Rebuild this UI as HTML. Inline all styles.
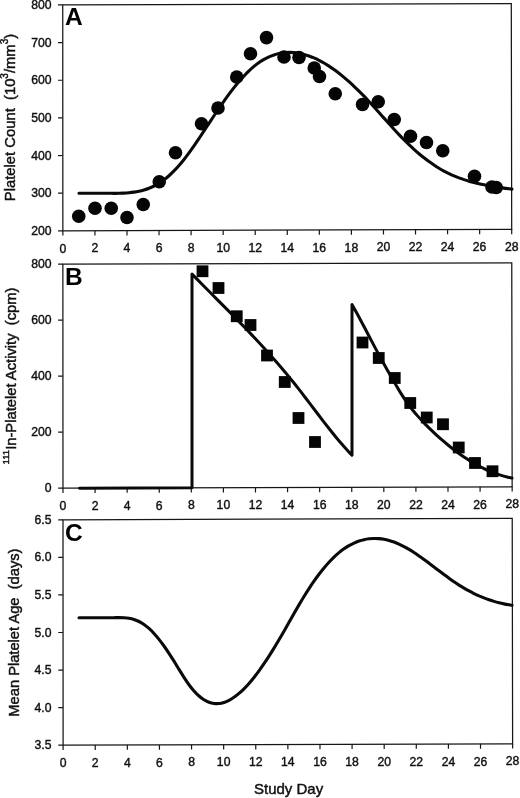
<!DOCTYPE html>
<html><head><meta charset="utf-8"><title>Figure</title>
<style>
html,body{margin:0;padding:0;background:#fff;}
svg{display:block;white-space:pre;font-family:"Liberation Sans",Arial,Helvetica,sans-serif;}
.t{font-size:12.2px;fill:#111;stroke:#111;stroke-width:0.4px;}
.al{font-size:15px;fill:#111;stroke:#111;stroke-width:0.45px;}
.sup{font-size:9px;}
.L{font-size:24.5px;font-weight:bold;fill:#000;}
.c{fill:none;stroke:#0a0a0a;stroke-width:3.1;stroke-linecap:round;stroke-linejoin:round;}
</style></head><body>
<svg width="520" height="798" viewBox="0 0 520 798"><rect width="520" height="798" fill="#fff"/><path d="M62.74,4.96L511.29,3.52L511.70,229.36L62.86,230.80Z" fill="none" stroke="#161616" stroke-width="1.25"/><line x1="62.86" y1="230.80" x2="62.87" y2="235.60" stroke="#161616" stroke-width="1.2"/><text x="62.86" y="252.50" text-anchor="middle" class="t">0</text><line x1="94.92" y1="230.70" x2="94.93" y2="235.50" stroke="#161616" stroke-width="1.2"/><text x="94.92" y="252.40" text-anchor="middle" class="t">2</text><line x1="126.98" y1="230.59" x2="126.99" y2="235.39" stroke="#161616" stroke-width="1.2"/><text x="126.98" y="252.29" text-anchor="middle" class="t">4</text><line x1="159.04" y1="230.49" x2="159.05" y2="235.29" stroke="#161616" stroke-width="1.2"/><text x="159.04" y="252.19" text-anchor="middle" class="t">6</text><line x1="191.10" y1="230.39" x2="191.11" y2="235.19" stroke="#161616" stroke-width="1.2"/><text x="191.10" y="252.09" text-anchor="middle" class="t">8</text><line x1="223.16" y1="230.29" x2="223.17" y2="235.09" stroke="#161616" stroke-width="1.2"/><text x="223.16" y="251.99" text-anchor="middle" class="t">10</text><line x1="255.22" y1="230.18" x2="255.23" y2="234.98" stroke="#161616" stroke-width="1.2"/><text x="255.22" y="251.88" text-anchor="middle" class="t">12</text><line x1="287.28" y1="230.08" x2="287.29" y2="234.88" stroke="#161616" stroke-width="1.2"/><text x="287.28" y="251.78" text-anchor="middle" class="t">14</text><line x1="319.34" y1="229.98" x2="319.35" y2="234.78" stroke="#161616" stroke-width="1.2"/><text x="319.34" y="251.68" text-anchor="middle" class="t">16</text><line x1="351.40" y1="229.88" x2="351.41" y2="234.68" stroke="#161616" stroke-width="1.2"/><text x="351.40" y="251.58" text-anchor="middle" class="t">18</text><line x1="383.46" y1="229.77" x2="383.47" y2="234.57" stroke="#161616" stroke-width="1.2"/><text x="383.46" y="251.47" text-anchor="middle" class="t">20</text><line x1="415.52" y1="229.67" x2="415.53" y2="234.47" stroke="#161616" stroke-width="1.2"/><text x="415.52" y="251.37" text-anchor="middle" class="t">22</text><line x1="447.58" y1="229.57" x2="447.59" y2="234.37" stroke="#161616" stroke-width="1.2"/><text x="447.58" y="251.27" text-anchor="middle" class="t">24</text><line x1="479.64" y1="229.47" x2="479.65" y2="234.27" stroke="#161616" stroke-width="1.2"/><text x="479.64" y="251.17" text-anchor="middle" class="t">26</text><line x1="511.70" y1="229.36" x2="511.71" y2="234.16" stroke="#161616" stroke-width="1.2"/><text x="511.70" y="251.06" text-anchor="middle" class="t">28</text><line x1="57.94" y1="4.97" x2="62.74" y2="4.96" stroke="#161616" stroke-width="1.2"/><text x="51.5" y="9.06" text-anchor="end" class="t">800</text><line x1="57.96" y1="42.62" x2="62.76" y2="42.60" stroke="#161616" stroke-width="1.2"/><text x="51.5" y="46.70" text-anchor="end" class="t">700</text><line x1="57.98" y1="80.25" x2="62.78" y2="80.24" stroke="#161616" stroke-width="1.2"/><text x="51.5" y="84.34" text-anchor="end" class="t">600</text><line x1="58.00" y1="117.89" x2="62.80" y2="117.88" stroke="#161616" stroke-width="1.2"/><text x="51.5" y="121.98" text-anchor="end" class="t">500</text><line x1="58.02" y1="155.53" x2="62.82" y2="155.52" stroke="#161616" stroke-width="1.2"/><text x="51.5" y="159.62" text-anchor="end" class="t">400</text><line x1="58.04" y1="193.18" x2="62.84" y2="193.16" stroke="#161616" stroke-width="1.2"/><text x="51.5" y="197.26" text-anchor="end" class="t">300</text><line x1="58.06" y1="230.81" x2="62.86" y2="230.80" stroke="#161616" stroke-width="1.2"/><text x="51.5" y="234.90" text-anchor="end" class="t">200</text><path d="M62.87,264.20L511.76,262.76L512.16,486.76L62.99,488.20Z" fill="none" stroke="#161616" stroke-width="1.25"/><line x1="62.99" y1="488.20" x2="63.00" y2="493.00" stroke="#161616" stroke-width="1.2"/><text x="62.99" y="509.90" text-anchor="middle" class="t">0</text><line x1="95.07" y1="488.10" x2="95.08" y2="492.90" stroke="#161616" stroke-width="1.2"/><text x="95.07" y="509.80" text-anchor="middle" class="t">2</text><line x1="127.15" y1="487.99" x2="127.16" y2="492.79" stroke="#161616" stroke-width="1.2"/><text x="127.15" y="509.69" text-anchor="middle" class="t">4</text><line x1="159.24" y1="487.89" x2="159.25" y2="492.69" stroke="#161616" stroke-width="1.2"/><text x="159.24" y="509.59" text-anchor="middle" class="t">6</text><line x1="191.32" y1="487.79" x2="191.33" y2="492.59" stroke="#161616" stroke-width="1.2"/><text x="191.32" y="509.49" text-anchor="middle" class="t">8</text><line x1="223.40" y1="487.69" x2="223.41" y2="492.49" stroke="#161616" stroke-width="1.2"/><text x="223.40" y="509.39" text-anchor="middle" class="t">10</text><line x1="255.49" y1="487.58" x2="255.50" y2="492.38" stroke="#161616" stroke-width="1.2"/><text x="255.49" y="509.28" text-anchor="middle" class="t">12</text><line x1="287.57" y1="487.48" x2="287.58" y2="492.28" stroke="#161616" stroke-width="1.2"/><text x="287.57" y="509.18" text-anchor="middle" class="t">14</text><line x1="319.66" y1="487.38" x2="319.67" y2="492.18" stroke="#161616" stroke-width="1.2"/><text x="319.66" y="509.08" text-anchor="middle" class="t">16</text><line x1="351.74" y1="487.28" x2="351.75" y2="492.08" stroke="#161616" stroke-width="1.2"/><text x="351.74" y="508.98" text-anchor="middle" class="t">18</text><line x1="383.82" y1="487.17" x2="383.83" y2="491.97" stroke="#161616" stroke-width="1.2"/><text x="383.82" y="508.87" text-anchor="middle" class="t">20</text><line x1="415.91" y1="487.07" x2="415.92" y2="491.87" stroke="#161616" stroke-width="1.2"/><text x="415.91" y="508.77" text-anchor="middle" class="t">22</text><line x1="447.99" y1="486.97" x2="448.00" y2="491.77" stroke="#161616" stroke-width="1.2"/><text x="447.99" y="508.67" text-anchor="middle" class="t">24</text><line x1="480.08" y1="486.87" x2="480.09" y2="491.67" stroke="#161616" stroke-width="1.2"/><text x="480.08" y="508.57" text-anchor="middle" class="t">26</text><line x1="512.16" y1="486.76" x2="512.17" y2="491.56" stroke="#161616" stroke-width="1.2"/><text x="512.16" y="508.46" text-anchor="middle" class="t">28</text><line x1="58.07" y1="264.21" x2="62.87" y2="264.20" stroke="#161616" stroke-width="1.2"/><text x="51.5" y="268.30" text-anchor="end" class="t">800</text><line x1="58.10" y1="320.21" x2="62.90" y2="320.20" stroke="#161616" stroke-width="1.2"/><text x="51.5" y="324.30" text-anchor="end" class="t">600</text><line x1="58.13" y1="376.21" x2="62.93" y2="376.20" stroke="#161616" stroke-width="1.2"/><text x="51.5" y="380.30" text-anchor="end" class="t">400</text><line x1="58.16" y1="432.21" x2="62.96" y2="432.20" stroke="#161616" stroke-width="1.2"/><text x="51.5" y="436.30" text-anchor="end" class="t">200</text><line x1="58.19" y1="488.21" x2="62.99" y2="488.20" stroke="#161616" stroke-width="1.2"/><text x="51.5" y="492.30" text-anchor="end" class="t">0</text><path d="M63.00,519.80L512.22,518.36L512.62,743.76L63.11,745.20Z" fill="none" stroke="#161616" stroke-width="1.25"/><line x1="63.11" y1="745.20" x2="63.12" y2="750.00" stroke="#161616" stroke-width="1.2"/><text x="63.11" y="766.90" text-anchor="middle" class="t">0</text><line x1="95.22" y1="745.10" x2="95.23" y2="749.90" stroke="#161616" stroke-width="1.2"/><text x="95.22" y="766.80" text-anchor="middle" class="t">2</text><line x1="127.33" y1="744.99" x2="127.34" y2="749.79" stroke="#161616" stroke-width="1.2"/><text x="127.33" y="766.69" text-anchor="middle" class="t">4</text><line x1="159.44" y1="744.89" x2="159.45" y2="749.69" stroke="#161616" stroke-width="1.2"/><text x="159.44" y="766.59" text-anchor="middle" class="t">6</text><line x1="191.54" y1="744.79" x2="191.55" y2="749.59" stroke="#161616" stroke-width="1.2"/><text x="191.54" y="766.49" text-anchor="middle" class="t">8</text><line x1="223.65" y1="744.69" x2="223.66" y2="749.49" stroke="#161616" stroke-width="1.2"/><text x="223.65" y="766.39" text-anchor="middle" class="t">10</text><line x1="255.76" y1="744.58" x2="255.77" y2="749.38" stroke="#161616" stroke-width="1.2"/><text x="255.76" y="766.28" text-anchor="middle" class="t">12</text><line x1="287.87" y1="744.48" x2="287.88" y2="749.28" stroke="#161616" stroke-width="1.2"/><text x="287.87" y="766.18" text-anchor="middle" class="t">14</text><line x1="319.98" y1="744.38" x2="319.99" y2="749.18" stroke="#161616" stroke-width="1.2"/><text x="319.98" y="766.08" text-anchor="middle" class="t">16</text><line x1="352.08" y1="744.28" x2="352.09" y2="749.08" stroke="#161616" stroke-width="1.2"/><text x="352.08" y="765.98" text-anchor="middle" class="t">18</text><line x1="384.19" y1="744.17" x2="384.20" y2="748.97" stroke="#161616" stroke-width="1.2"/><text x="384.19" y="765.87" text-anchor="middle" class="t">20</text><line x1="416.30" y1="744.07" x2="416.31" y2="748.87" stroke="#161616" stroke-width="1.2"/><text x="416.30" y="765.77" text-anchor="middle" class="t">22</text><line x1="448.41" y1="743.97" x2="448.42" y2="748.77" stroke="#161616" stroke-width="1.2"/><text x="448.41" y="765.67" text-anchor="middle" class="t">24</text><line x1="480.51" y1="743.86" x2="480.52" y2="748.66" stroke="#161616" stroke-width="1.2"/><text x="480.51" y="765.56" text-anchor="middle" class="t">26</text><line x1="512.62" y1="743.76" x2="512.63" y2="748.56" stroke="#161616" stroke-width="1.2"/><text x="512.62" y="765.46" text-anchor="middle" class="t">28</text><line x1="58.20" y1="519.81" x2="63.00" y2="519.80" stroke="#161616" stroke-width="1.2"/><text x="51.5" y="523.90" text-anchor="end" class="t">6.5</text><line x1="58.22" y1="557.38" x2="63.02" y2="557.37" stroke="#161616" stroke-width="1.2"/><text x="51.5" y="561.47" text-anchor="end" class="t">6.0</text><line x1="58.24" y1="594.95" x2="63.04" y2="594.93" stroke="#161616" stroke-width="1.2"/><text x="51.5" y="599.03" text-anchor="end" class="t">5.5</text><line x1="58.26" y1="632.51" x2="63.06" y2="632.50" stroke="#161616" stroke-width="1.2"/><text x="51.5" y="636.60" text-anchor="end" class="t">5.0</text><line x1="58.28" y1="670.08" x2="63.08" y2="670.07" stroke="#161616" stroke-width="1.2"/><text x="51.5" y="674.17" text-anchor="end" class="t">4.5</text><line x1="58.29" y1="707.65" x2="63.09" y2="707.63" stroke="#161616" stroke-width="1.2"/><text x="51.5" y="711.73" text-anchor="end" class="t">4.0</text><line x1="58.31" y1="745.22" x2="63.11" y2="745.20" stroke="#161616" stroke-width="1.2"/><text x="51.5" y="749.30" text-anchor="end" class="t">3.5</text><path d="M79.00,193.25C79.83,193.25 82.33,193.25 84.00,193.25C85.67,193.25 87.33,193.25 89.00,193.25C90.67,193.25 92.33,193.25 94.00,193.25C95.67,193.25 97.33,193.25 99.00,193.25C100.67,193.25 102.33,193.25 104.00,193.25C105.67,193.25 107.33,193.24 109.00,193.25C110.67,193.26 112.33,193.32 114.00,193.33C115.67,193.34 117.33,193.33 119.00,193.29C120.67,193.26 122.33,193.21 124.00,193.12C125.67,193.04 127.33,192.92 129.00,192.76C130.67,192.60 132.33,192.40 134.00,192.14C135.67,191.89 137.33,191.59 139.00,191.22C140.67,190.85 142.33,190.43 144.00,189.93C145.67,189.42 147.33,188.86 149.00,188.20C150.67,187.55 152.33,186.82 154.00,185.99C155.67,185.16 157.33,184.25 159.00,183.22C160.67,182.19 162.33,181.07 164.00,179.82C165.67,178.57 167.33,177.22 169.00,175.74C170.67,174.26 172.33,172.66 174.00,170.95C175.67,169.24 177.33,167.42 179.00,165.50C180.67,163.58 182.33,161.54 184.00,159.43C185.67,157.32 187.33,155.10 189.00,152.83C190.67,150.56 192.33,148.21 194.00,145.82C195.67,143.43 197.33,140.97 199.00,138.50C200.67,136.02 202.33,133.50 204.00,130.97C205.67,128.45 207.33,125.89 209.00,123.36C210.67,120.82 212.33,118.27 214.00,115.75C215.67,113.24 217.33,110.73 219.00,108.28C220.67,105.82 222.33,103.39 224.00,101.03C225.67,98.67 227.33,96.35 229.00,94.11C230.67,91.88 232.33,89.70 234.00,87.60C235.67,85.50 237.33,83.47 239.00,81.52C240.67,79.58 242.33,77.71 244.00,75.94C245.67,74.17 247.33,72.48 249.00,70.90C250.67,69.31 252.33,67.82 254.00,66.43C255.67,65.05 257.33,63.77 259.00,62.60C260.67,61.43 262.33,60.38 264.00,59.42C265.67,58.47 267.33,57.62 269.00,56.87C270.67,56.12 272.33,55.47 274.00,54.92C275.67,54.37 277.33,53.91 279.00,53.55C280.67,53.18 282.33,52.91 284.00,52.72C285.67,52.53 287.33,52.44 289.00,52.42C290.67,52.40 292.33,52.47 294.00,52.62C295.67,52.76 297.33,52.99 299.00,53.28C300.67,53.58 302.33,53.96 304.00,54.40C305.67,54.85 307.33,55.37 309.00,55.95C310.67,56.54 312.33,57.20 314.00,57.92C315.67,58.64 317.33,59.43 319.00,60.28C320.67,61.12 322.33,62.04 324.00,63.01C325.67,63.98 327.33,65.01 329.00,66.10C330.67,67.19 332.33,68.33 334.00,69.53C335.67,70.73 337.33,71.98 339.00,73.28C340.67,74.58 342.33,75.94 344.00,77.34C345.67,78.73 347.33,80.18 349.00,81.67C350.67,83.16 352.33,84.70 354.00,86.27C355.67,87.84 357.33,89.46 359.00,91.12C360.67,92.77 362.33,94.46 364.00,96.19C365.67,97.91 367.33,99.68 369.00,101.47C370.67,103.26 372.33,105.09 374.00,106.92C375.67,108.76 377.33,110.63 379.00,112.49C380.67,114.35 382.33,116.24 384.00,118.11C385.67,119.97 387.33,121.85 389.00,123.70C390.67,125.56 392.33,127.41 394.00,129.22C395.67,131.04 397.33,132.84 399.00,134.60C400.67,136.35 402.33,138.08 404.00,139.76C405.67,141.44 407.33,143.08 409.00,144.68C410.67,146.27 412.33,147.82 414.00,149.32C415.67,150.83 417.33,152.29 419.00,153.70C420.67,155.11 422.33,156.47 424.00,157.78C425.67,159.09 427.33,160.36 429.00,161.57C430.67,162.78 432.33,163.94 434.00,165.05C435.67,166.16 437.33,167.22 439.00,168.22C440.67,169.22 442.33,170.16 444.00,171.06C445.67,171.96 447.33,172.80 449.00,173.60C450.67,174.39 452.33,175.14 454.00,175.85C455.67,176.56 457.33,177.22 459.00,177.84C460.67,178.47 462.33,179.05 464.00,179.61C465.67,180.16 467.33,180.68 469.00,181.16C470.67,181.65 472.33,182.11 474.00,182.54C475.67,182.97 477.33,183.38 479.00,183.76C480.67,184.15 482.33,184.50 484.00,184.85C485.67,185.19 487.33,185.51 489.00,185.81C490.67,186.12 492.33,186.40 494.00,186.67C495.67,186.95 497.33,187.20 499.00,187.44C500.67,187.69 502.33,187.92 504.00,188.14C505.67,188.36 507.67,188.60 509.00,188.77C510.33,188.93 511.50,189.06 512.00,189.12" class="c"/><circle cx="78.75" cy="216.25" r="6.8" fill="#050505"/><circle cx="95" cy="208.25" r="6.8" fill="#050505"/><circle cx="111.25" cy="208.25" r="6.8" fill="#050505"/><circle cx="127" cy="217.5" r="6.8" fill="#050505"/><circle cx="143.25" cy="204.5" r="6.8" fill="#050505"/><circle cx="159.25" cy="181.75" r="6.8" fill="#050505"/><circle cx="175.5" cy="152.75" r="6.8" fill="#050505"/><circle cx="201.5" cy="123.75" r="6.8" fill="#050505"/><circle cx="218" cy="108" r="6.8" fill="#050505"/><circle cx="236.75" cy="77" r="6.8" fill="#050505"/><circle cx="250.5" cy="53.75" r="6.8" fill="#050505"/><circle cx="266.5" cy="37.6" r="6.8" fill="#050505"/><circle cx="284" cy="57" r="6.8" fill="#050505"/><circle cx="299" cy="57.5" r="6.8" fill="#050505"/><circle cx="314.25" cy="68" r="6.8" fill="#050505"/><circle cx="319.5" cy="76.5" r="6.8" fill="#050505"/><circle cx="335.25" cy="93.75" r="6.8" fill="#050505"/><circle cx="362.5" cy="104.5" r="6.8" fill="#050505"/><circle cx="378.25" cy="101.75" r="6.8" fill="#050505"/><circle cx="394.25" cy="119.5" r="6.8" fill="#050505"/><circle cx="410.5" cy="136.25" r="6.8" fill="#050505"/><circle cx="426.5" cy="142.5" r="6.8" fill="#050505"/><circle cx="442.75" cy="150.75" r="6.8" fill="#050505"/><circle cx="474.5" cy="176.25" r="6.8" fill="#050505"/><circle cx="492" cy="187" r="6.8" fill="#050505"/><circle cx="496.25" cy="187.5" r="6.8" fill="#050505"/><path d="M79.5,488.15L192,487.85L192,274C193.00,275.00 196.00,278.09 198.00,280.13C200.00,282.17 202.00,284.20 204.00,286.23C206.00,288.26 208.00,290.27 210.00,292.29C212.00,294.30 214.00,296.31 216.00,298.33C218.00,300.34 220.00,302.34 222.00,304.36C224.00,306.37 226.00,308.38 228.00,310.40C230.00,312.42 232.00,314.45 234.00,316.48C236.00,318.52 238.00,320.56 240.00,322.61C242.00,324.66 244.00,326.73 246.00,328.81C248.00,330.89 250.00,332.98 252.00,335.09C254.00,337.20 256.00,339.33 258.00,341.48C260.00,343.63 262.00,345.80 264.00,347.99C266.00,350.19 268.00,352.40 270.00,354.65C272.00,356.89 274.00,359.16 276.00,361.46C278.00,363.76 280.00,366.09 282.00,368.46C284.00,370.82 286.00,373.21 288.00,375.65C290.00,378.08 292.00,380.54 294.00,383.05C296.00,385.56 298.00,388.11 300.00,390.68C302.00,393.25 304.00,395.86 306.00,398.48C308.00,401.09 310.00,403.73 312.00,406.36C314.00,408.99 316.00,411.64 318.00,414.25C320.00,416.87 322.00,419.49 324.00,422.07C326.00,424.66 328.00,427.22 330.00,429.74C332.00,432.26 334.00,434.75 336.00,437.17C338.00,439.60 340.00,441.98 342.00,444.29C344.00,446.60 346.33,449.19 348.00,451.01C349.67,452.84 351.33,454.53 352.00,455.23L352,304.5C353.00,306.27 356.00,311.61 358.00,315.29C360.00,318.97 362.00,322.77 364.00,326.55C366.00,330.34 368.00,334.20 370.00,338.01C372.00,341.82 374.00,345.66 376.00,349.40C378.00,353.15 380.00,356.85 382.00,360.48C384.00,364.10 386.00,367.63 388.00,371.15C390.00,374.68 392.00,378.19 394.00,381.64C396.00,385.09 398.00,388.61 400.00,391.86C402.00,395.10 404.00,398.22 406.00,401.12C408.00,404.01 410.00,406.67 412.00,409.21C414.00,411.76 416.00,414.11 418.00,416.38C420.00,418.65 422.00,420.77 424.00,422.85C426.00,424.93 428.00,426.91 430.00,428.86C432.00,430.81 434.00,432.70 436.00,434.55C438.00,436.39 440.00,438.19 442.00,439.93C444.00,441.67 446.00,443.36 448.00,445.00C450.00,446.64 452.00,448.22 454.00,449.75C456.00,451.29 458.00,452.76 460.00,454.19C462.00,455.61 464.00,456.98 466.00,458.29C468.00,459.61 470.00,460.86 472.00,462.06C474.00,463.26 476.00,464.41 478.00,465.49C480.00,466.58 482.00,467.60 484.00,468.57C486.00,469.54 488.00,470.44 490.00,471.29C492.00,472.14 494.00,472.92 496.00,473.64C498.00,474.37 500.00,475.03 502.00,475.63C504.00,476.23 506.33,476.82 508.00,477.23C509.67,477.64 511.33,477.95 512.00,478.09" class="c" style="stroke-width:3.0;stroke-linejoin:round"/><rect x="196.60" y="265.35" width="11.8" height="11.8" fill="#050505"/><rect x="212.60" y="282.10" width="11.8" height="11.8" fill="#050505"/><rect x="230.85" y="310.35" width="11.8" height="11.8" fill="#050505"/><rect x="244.60" y="319.10" width="11.8" height="11.8" fill="#050505"/><rect x="261.10" y="349.60" width="11.8" height="11.8" fill="#050505"/><rect x="278.85" y="376.10" width="11.8" height="11.8" fill="#050505"/><rect x="292.60" y="412.10" width="11.8" height="11.8" fill="#050505"/><rect x="309.10" y="436.10" width="11.8" height="11.8" fill="#050505"/><rect x="356.60" y="336.60" width="11.8" height="11.8" fill="#050505"/><rect x="372.85" y="352.10" width="11.8" height="11.8" fill="#050505"/><rect x="388.85" y="372.10" width="11.8" height="11.8" fill="#050505"/><rect x="404.35" y="397.10" width="11.8" height="11.8" fill="#050505"/><rect x="420.85" y="411.60" width="11.8" height="11.8" fill="#050505"/><rect x="437.10" y="418.35" width="11.8" height="11.8" fill="#050505"/><rect x="452.85" y="441.60" width="11.8" height="11.8" fill="#050505"/><rect x="469.10" y="457.10" width="11.8" height="11.8" fill="#050505"/><rect x="486.60" y="465.35" width="11.8" height="11.8" fill="#050505"/><path d="M79.00,617.80C79.83,617.80 82.33,617.80 84.00,617.80C85.67,617.80 87.33,617.80 89.00,617.80C90.67,617.80 92.33,617.80 94.00,617.80C95.67,617.80 97.33,617.80 99.00,617.80C100.67,617.80 102.33,617.80 104.00,617.80C105.67,617.80 107.33,617.81 109.00,617.79C110.67,617.77 112.33,617.72 114.00,617.69C115.67,617.66 117.33,617.60 119.00,617.62C120.67,617.63 122.33,617.65 124.00,617.77C125.67,617.90 127.33,618.05 129.00,618.34C130.67,618.64 132.33,619.00 134.00,619.52C135.67,620.04 137.33,620.67 139.00,621.49C140.67,622.31 142.33,623.28 144.00,624.44C145.67,625.61 147.33,626.96 149.00,628.47C150.67,629.97 152.33,631.66 154.00,633.47C155.67,635.28 157.33,637.26 159.00,639.35C160.67,641.44 162.33,643.67 164.00,646.00C165.67,648.33 167.33,650.78 169.00,653.31C170.67,655.84 172.33,658.50 174.00,661.18C175.67,663.85 177.33,666.66 179.00,669.36C180.67,672.06 182.33,674.81 184.00,677.38C185.67,679.94 187.33,682.46 189.00,684.73C190.67,687.00 192.33,689.11 194.00,690.99C195.67,692.86 197.33,694.54 199.00,696.01C200.67,697.47 202.33,698.73 204.00,699.77C205.67,700.82 207.33,701.65 209.00,702.27C210.67,702.89 212.33,703.29 214.00,703.50C215.67,703.71 217.33,703.71 219.00,703.53C220.67,703.36 222.33,702.98 224.00,702.45C225.67,701.92 227.33,701.21 229.00,700.35C230.67,699.50 232.33,698.47 234.00,697.32C235.67,696.17 237.33,694.86 239.00,693.44C240.67,692.02 242.33,690.46 244.00,688.79C245.67,687.12 247.33,685.33 249.00,683.44C250.67,681.55 252.33,679.54 254.00,677.44C255.67,675.34 257.33,673.13 259.00,670.85C260.67,668.57 262.33,666.18 264.00,663.73C265.67,661.28 267.33,658.74 269.00,656.15C270.67,653.55 272.33,650.87 274.00,648.15C275.67,645.43 277.33,642.63 279.00,639.80C280.67,636.97 282.33,634.07 284.00,631.17C285.67,628.26 287.33,625.30 289.00,622.36C290.67,619.42 292.33,616.46 294.00,613.54C295.67,610.63 297.33,607.72 299.00,604.88C300.67,602.04 302.33,599.23 304.00,596.52C305.67,593.81 307.33,591.16 309.00,588.61C310.67,586.05 312.33,583.57 314.00,581.19C315.67,578.80 317.33,576.50 319.00,574.30C320.67,572.09 322.33,569.98 324.00,567.97C325.67,565.95 327.33,564.04 329.00,562.23C330.67,560.42 332.33,558.71 334.00,557.11C335.67,555.51 337.33,554.02 339.00,552.64C340.67,551.26 342.33,549.99 344.00,548.82C345.67,547.66 347.33,546.60 349.00,545.63C350.67,544.67 352.33,543.81 354.00,543.05C355.67,542.29 357.33,541.63 359.00,541.06C360.67,540.49 362.33,540.02 364.00,539.64C365.67,539.26 367.33,538.97 369.00,538.77C370.67,538.57 372.33,538.46 374.00,538.43C375.67,538.41 377.33,538.47 379.00,538.61C380.67,538.75 382.33,538.98 384.00,539.29C385.67,539.59 387.33,539.98 389.00,540.44C390.67,540.89 392.33,541.43 394.00,542.04C395.67,542.65 397.33,543.34 399.00,544.09C400.67,544.84 402.33,545.66 404.00,546.55C405.67,547.43 407.33,548.38 409.00,549.38C410.67,550.37 412.33,551.43 414.00,552.51C415.67,553.60 417.33,554.74 419.00,555.91C420.67,557.07 422.33,558.27 424.00,559.49C425.67,560.71 427.33,561.96 429.00,563.21C430.67,564.46 432.33,565.74 434.00,567.01C435.67,568.28 437.33,569.56 439.00,570.83C440.67,572.09 442.33,573.36 444.00,574.60C445.67,575.84 447.33,577.08 449.00,578.28C450.67,579.48 452.33,580.66 454.00,581.80C455.67,582.94 457.33,584.05 459.00,585.11C460.67,586.17 462.33,587.19 464.00,588.17C465.67,589.15 467.33,590.08 469.00,590.97C470.67,591.87 472.33,592.72 474.00,593.53C475.67,594.34 477.33,595.12 479.00,595.85C480.67,596.58 482.33,597.27 484.00,597.92C485.67,598.57 487.33,599.18 489.00,599.76C490.67,600.33 492.33,600.86 494.00,601.36C495.67,601.85 497.33,602.31 499.00,602.73C500.67,603.15 502.33,603.53 504.00,603.87C505.67,604.22 507.67,604.57 509.00,604.80C510.33,605.02 511.50,605.17 512.00,605.24" class="c"/><text x="65" y="25.4" class="L">A</text><text x="65" y="285.4" class="L">B</text><text x="65" y="540.8" class="L">C</text><text x="288.6" y="794.4" text-anchor="middle" class="al">Study Day</text><text transform="translate(14.7,117.5) rotate(-90)" text-anchor="middle" class="al" style="font-size:14.8px" xml:space="preserve">Platelet Count  (10<tspan dy="-7.2" style="font-size:10px">3</tspan><tspan dy="7.2">/mm</tspan><tspan dy="-7.2" style="font-size:10px">3</tspan><tspan dy="7.2">)</tspan></text><text transform="translate(16.4,376) rotate(-90)" text-anchor="middle" class="al" style="font-size:14.75px" xml:space="preserve"><tspan dy="-7.5" style="font-size:9.6px">111</tspan><tspan dy="7.5">In-Platelet Activity  (cpm)</tspan></text><text transform="translate(18.8,632.6) rotate(-90)" text-anchor="middle" class="al" style="font-size:14.7px" xml:space="preserve">Mean Platelet Age  (days)</text></svg>
</body></html>
